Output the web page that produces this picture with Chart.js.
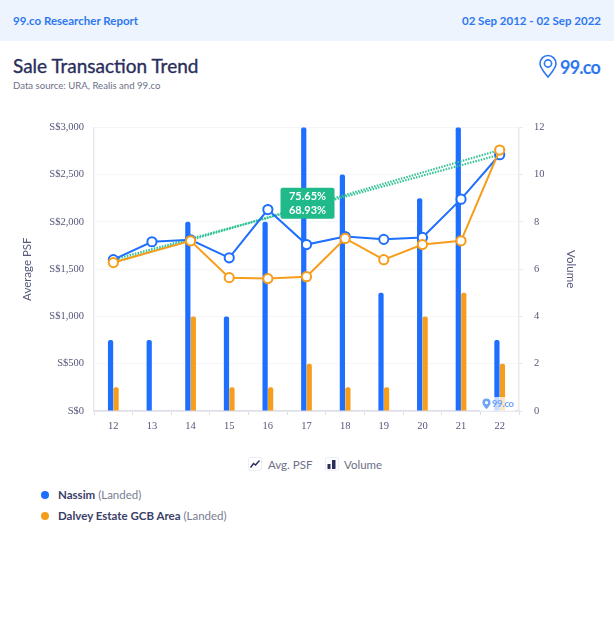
<!DOCTYPE HTML>
<html>
    <head>
        <meta charset="utf-8">
        <title>Sale Transaction Trend</title>
        <script src="https://cdn.jsdelivr.net/npm/chart.js@4"></script>
        <style>
            html, body { margin: 0; padding: 0; background: #fff; }
            body { position: relative; width: 614px; height: 630px; overflow: hidden; font-family: Lato, sans-serif; color: #2a2e5c; }
            .abs { position: absolute; white-space: nowrap; }
            #band { left: 0; top: 0; width: 614px; height: 41px; background: #edf4fe; }
            .bandText { top: 13px; font-size: 11.5px; font-weight: 700; color: #2e78f0; line-height: 15px; }
            #title { left: 13px; top: 54px; font-size: 19px; font-weight: 400; line-height: 24px; color: #2a2e5c; -webkit-text-stroke: 0.35px #2a2e5c; }
            #source { left: 13px; top: 79px; font-size: 9.6px; line-height: 14px; color: #6d7086; }
            #chartBox { left: 0; top: 110px; width: 614px; height: 330px; }
            .legendText { font-size: 11.5px; line-height: 16px; color: #6d7086; }
            .iconBox { width: 14px; height: 14px; border: 1px solid #eceef4; border-radius: 2px; box-sizing: border-box; }
            .dot { width: 8px; height: 8px; border-radius: 50%; }
            .seriesText { left: 58px; font-size: 11.5px; line-height: 16px; color: #7a7d92; }
            .seriesText b { color: #3a3e68; }
        </style>
    </head>
    <body>
        <div class="abs" id="band"></div>
        <div class="abs bandText" style="left:13px">99.co Researcher Report</div>
        <div class="abs bandText" style="right:13px">02 Sep 2012 - 02 Sep 2022</div>
        <div class="abs" id="title">Sale Transaction Trend</div>
        <div class="abs" id="source">Data source: URA, Realis and 99.co</div>

        <svg class="abs" style="left:538px;top:54px" width="20" height="25" viewBox="0 0 20 25">
            <path d="M10 23 C6 18 2 14 2 9.5 A8 8 0 0 1 18 9.5 C18 14 14 18 10 23 Z" fill="none" stroke="#2e78f0" stroke-width="1.6"/>
            <circle cx="10" cy="9.5" r="3.6" fill="none" stroke="#2e78f0" stroke-width="1.6"/>
        </svg>
        <div class="abs" style="left:560px;top:55px;font-size:18px;font-weight:700;line-height:24px;letter-spacing:-0.8px;color:#2e78f0">99.co</div>

        <div class="abs" id="chartBox"><canvas id="trendChart" width="614" height="330"></canvas></div>

        <div class="abs" style="left:480px;top:397px;width:35px;height:14px;background:rgba(255,255,255,0.75)"></div>
        <svg class="abs" style="left:482px;top:398px" width="9" height="12" viewBox="0 0 20 25">
            <path d="M10 24 C5 18 1 14 1 9.5 A9 9 0 0 1 19 9.5 C19 14 15 18 10 24 Z" fill="#6fa3f5"/>
            <circle cx="10" cy="9.5" r="3.5" fill="#fff"/>
        </svg>
        <div class="abs" style="left:492px;top:398px;font-size:9.5px;font-weight:700;line-height:12px;letter-spacing:-0.3px;color:#6fa3f5">99.co</div>

        <div class="abs iconBox" style="left:248px;top:457px"></div>
        <svg class="abs" style="left:250px;top:459px" width="10" height="10" viewBox="0 0 10 10">
            <polyline points="0.5,8.5 3.5,4.5 5.5,6 9.5,1.5" fill="none" stroke="#2a2e5c" stroke-width="1.5"/>
        </svg>
        <div class="abs legendText" style="left:268px;top:457px">Avg. PSF</div>
        <div class="abs iconBox" style="left:325px;top:457px"></div>
        <svg class="abs" style="left:327px;top:459px" width="10" height="10" viewBox="0 0 10 10">
            <rect x="0.5" y="5" width="3" height="5" fill="#2a2e5c"/>
            <rect x="5" y="1" width="3.5" height="9" fill="#2a2e5c"/>
        </svg>
        <div class="abs legendText" style="left:344px;top:457px">Volume</div>

        <div class="abs dot" style="left:41px;top:491px;background:#1f6fff"></div>
        <div class="abs seriesText" style="top:487px"><b>Nassim</b> (Landed)</div>
        <div class="abs dot" style="left:41px;top:512px;background:#f79d1c"></div>
        <div class="abs seriesText" style="top:508px"><b>Dalvey Estate GCB Area</b> (Landed)</div>

        <script>
            const years = ['12', '13', '14', '15', '16', '17', '18', '19', '20', '21', '22'];
            const nassimPsf = [1600, 1790, 1810, 1620, 2130, 1760, 1845, 1815, 1835, 2240, 2710];
            const dalveyPsf = [1570, null, 1800, 1410, 1400, 1420, 1825, 1600, 1760, 1800, 2760];
            const nassimVolume = [3, 3, 8, 4, 8, 12, 10, 5, 9, 12, 3];
            const dalveyVolume = [1, 0, 4, 1, 1, 2, 1, 1, 4, 5, 2];
            const nassimTrend = [1600, null, null, null, null, null, null, null, null, null, 2710];
            const dalveyTrend = [1570, null, null, null, null, null, null, null, null, null, 2760];
            const growthLabels = ['75.65%', '68.93%'];

            const blue = '#1f6fff';
            const orange = '#f79d1c';
            const green = '#1fb98a';
            const trendGreen = '#33c296';
            const tickColor = '#54577a';
            const tickFont = { family: '"Liberation Serif", serif', size: 10.5 };

            function lineDataset(values, color) {
                return {
                    type: 'line',
                    data: values,
                    yAxisID: 'y',
                    borderColor: color,
                    borderWidth: 2,
                    backgroundColor: '#fff',
                    pointBackgroundColor: '#fff',
                    pointBorderColor: color,
                    pointBorderWidth: 2,
                    pointRadius: 4.6,
                    spanGaps: true,
                    tension: 0,
                    order: color === orange ? 1 : 2
                };
            }

            function trendDataset(values) {
                return {
                    type: 'line',
                    data: values,
                    yAxisID: 'y',
                    borderColor: trendGreen,
                    borderWidth: 2.2,
                    borderDash: [1.5, 1.3],
                    pointRadius: 0,
                    spanGaps: true,
                    tension: 0,
                    order: 3
                };
            }

            function barDataset(values, color) {
                return {
                    type: 'bar',
                    data: values,
                    yAxisID: 'y1',
                    backgroundColor: color,
                    borderRadius: 2,
                    borderSkipped: 'bottom',
                    categoryPercentage: 0.285,
                    barPercentage: 0.95,
                    order: 5
                };
            }

            // green growth badge, sits on the middle of the trend lines
            const growthBadge = {
                id: 'growthBadge',
                afterDatasetsDraw(chart) {
                    const ctx = chart.ctx;
                    const midIndex = Math.floor(years.length / 2);
                    const midValue = (nassimTrend[0] + nassimTrend[years.length - 1]) / 2;
                    const cx = chart.scales.x.getPixelForValue(midIndex) + 1;
                    const cy = chart.scales.y.getPixelForValue(midValue) - 4;
                    ctx.save();
                    ctx.fillStyle = green;
                    ctx.beginPath();
                    ctx.roundRect(cx - 27, cy - 15.5, 54, 31, 2);
                    ctx.fill();
                    ctx.fillStyle = '#fff';
                    ctx.font = '700 11px Lato, sans-serif';
                    ctx.textAlign = 'center';
                    ctx.textBaseline = 'middle';
                    ctx.fillText(growthLabels[0], cx, cy - 7);
                    ctx.fillText(growthLabels[1], cx, cy + 7);
                    ctx.restore();
                }
            };

            new Chart(document.getElementById('trendChart').getContext('2d'), {
                data: {
                    labels: years,
                    datasets: [
                        lineDataset(dalveyPsf, orange),
                        lineDataset(nassimPsf, blue),
                        trendDataset(nassimTrend),
                        trendDataset(dalveyTrend),
                        barDataset(nassimVolume, blue),
                        barDataset(dalveyVolume, orange)
                    ]
                },
                plugins: [growthBadge],
                options: {
                    responsive: false,
                    animation: false,
                    layout: { padding: { left: 20, right: 36, top: 17, bottom: 0 } },
                    plugins: { legend: false, tooltip: { enabled: false } },
                    scales: {
                        x: {
                            offset: true,
                            afterFit: (scale) => { scale.height = 29; },
                            border: { color: '#dcdde8', width: 1.5 },
                            grid: { display: true, drawOnChartArea: false, tickLength: 4, color: '#dcdde8' },
                            ticks: { color: tickColor, font: tickFont, padding: 5, maxRotation: 0 }
                        },
                        y: {
                            position: 'left',
                            min: 0,
                            max: 3000,
                            afterFit: (scale) => { scale.width = 74; },
                            border: { color: '#e9eaf0', width: 1.5 },
                            grid: { color: '#f6f6f8', drawTicks: false },
                            title: { display: true, text: 'Average PSF', color: '#54577a', font: { family: 'Lato, sans-serif', size: 11.5 }, padding: 0 },
                            ticks: {
                                color: tickColor,
                                font: tickFont,
                                padding: 10,
                                stepSize: 500,
                                callback: (val) => 'S$' + val.toLocaleString('en-US')
                            }
                        },
                        y1: {
                            position: 'right',
                            min: 0,
                            max: 12,
                            afterFit: (scale) => { scale.width = 59; },
                            border: { color: '#e9eaf0', width: 1.5 },
                            grid: { drawOnChartArea: false, tickLength: 4, color: '#e9eaf0' },
                            title: { display: true, text: 'Volume', color: '#54577a', font: { family: 'Lato, sans-serif', size: 11.5 }, padding: 0 },
                            ticks: { color: tickColor, font: tickFont, padding: 11, stepSize: 2 }
                        }
                    }
                }
            });
        </script>
    </body>
</html>
